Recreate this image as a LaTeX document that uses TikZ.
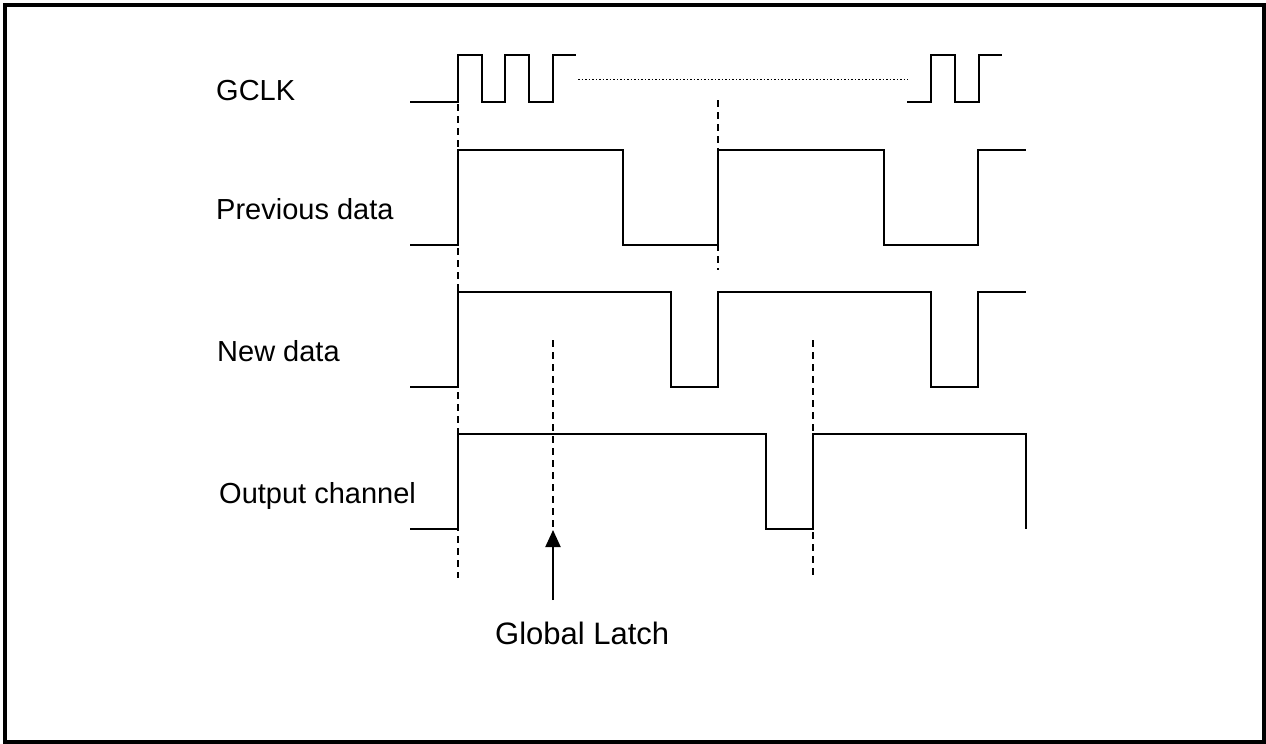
\documentclass[tikz,border=0pt]{standalone}
\usepackage{fontspec}
\setmainfont{Liberation Sans}
\usetikzlibrary{arrows.meta}
\tikzset{
  wave/.style={line width=2pt, line join=miter},
  guide/.style={line width=2pt, dash pattern=on 7pt off 5pt},
  lbl/.style={font=\fontsize{29}{34}\selectfont, anchor=base west, inner sep=0pt},
  biglbl/.style={font=\fontsize{31}{36}\selectfont, anchor=base west, inner sep=0pt},
  frame/.style={line width=4pt},
}
\begin{document}
\begin{tikzpicture}[x=1pt,y=-1pt]
\useasboundingbox (0,0) rectangle (1266,744);
\draw[frame] (5,4.5) rectangle (1264,742);

% labels
\node[lbl] (gclk) at (216,100) {GCLK};
\node[lbl] (prev) at (216,219) {Previous data};
\node[lbl] (new) at (217,361) {New data};
\node[lbl] (out) at (219,503) {Output channel};
\node[biglbl] (gl) at (495,644) {Global Latch};

% GCLK
\draw[wave] (410,102) -- (458,102) -- (458,55) -- (482,55) -- (482,102) -- (505,102)
  -- (505,55) -- (529,55) -- (529,102) -- (553,102) -- (553,55) -- (576,55);
\draw[line width=1pt, dash pattern=on 1.5pt off 2pt] (578,79) -- (908,79);
\draw[wave] (907,102) -- (931,102) -- (931,55) -- (955,55) -- (955,102) -- (979,102)
  -- (979,55) -- (1002,55);

% Previous data
\draw[wave] (410,245) -- (458,245) -- (458,150) -- (623,150) -- (623,245) -- (718,245)
  -- (718,150) -- (884,150) -- (884,245) -- (978,245) -- (978,150) -- (1026,150);

% New data
\draw[wave] (410,387) -- (458,387) -- (458,292) -- (671,292) -- (671,387) -- (718,387)
  -- (718,292) -- (931,292) -- (931,387) -- (978,387) -- (978,292) -- (1026,292);

% Output channel
\draw[wave] (410,529) -- (458,529) -- (458,434) -- (766,434) -- (766,529) -- (813,529)
  -- (813,434) -- (1026,434) -- (1026,529);

% guides
\coordinate (g1t) at (458,104);
\coordinate (g1b) at (458,578);
\coordinate (g2t) at (718,100);
\coordinate (g2b) at (718,270);
\coordinate (g3t) at (553,340);
\coordinate (g3b) at (553,530);
\coordinate (g4t) at (813,340);
\coordinate (g4b) at (813,578);
\draw[guide] (g1t) -- (g1b);
\draw[guide] (g2t) -- (g2b);
\draw[guide] (g3t) -- (g3b);
\draw[guide] (g4t) -- (g4b);

% arrow
\coordinate (at) at (553,600);
\draw[line width=2pt, -{Triangle[length=17pt,width=15pt]}] (at) -- (g3b);
\end{tikzpicture}
\end{document}
